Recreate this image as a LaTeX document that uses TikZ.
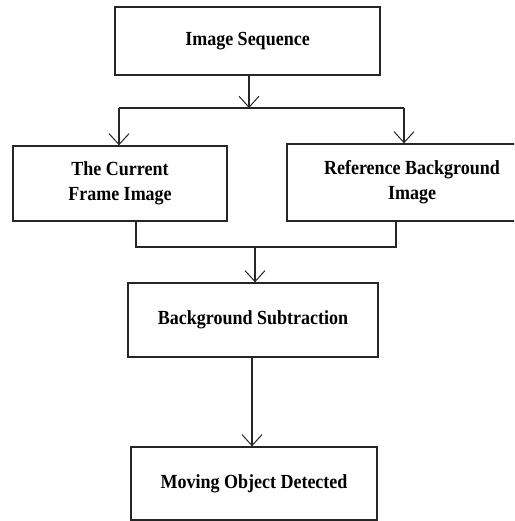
\documentclass[tikz,border=0pt]{standalone}
\usepackage{fontspec}
\setmainfont{Liberation Serif}[FakeStretch=0.9]
\usetikzlibrary{arrows.meta}
\begin{document}
\begin{tikzpicture}[x=1pt,y=-1pt,
  box/.style={draw=black!85, line width=1.3pt, rectangle, inner sep=0pt, align=center,
    font=\fontsize{20}{25}\selectfont\bfseries},
  conn/.style={line width=1.1pt, draw=black!85},
  arr/.style={conn, -{Straight Barb[length=11pt,width=20pt,line width=1pt]}}]
\useasboundingbox (0,0) rectangle (514,521);
\clip (0,0) rectangle (514,521);
\node[box, minimum width=265pt, minimum height=68pt] (seq) at (247.5,41) {Image Sequence};
\node[box, minimum width=214pt, minimum height=75pt] (cur) at (120,183.5) {The Current\\Frame Image};
\node[box, minimum width=250pt, minimum height=77pt] (ref) at (412,182.5) {Reference Background\\Image};
\node[box, minimum width=250pt, minimum height=74pt] (sub) at (253,320) {Background Subtraction};
\node[box, minimum width=246pt, minimum height=73pt] (mov) at (254,483.5) {Moving Object Detected};
\coordinate (j) at (249,108);
\coordinate (jl) at (119,108);
\coordinate (jr) at (404,108);
\coordinate (kl) at (136,247);
\coordinate (kr) at (396,247);
\coordinate (k) at (255,247);
\coordinate (m) at (252,0);
\draw[arr] (seq.south -| j) -- (j);
\draw[conn] (jl) -- (jr);
\draw[arr] (jl) -- (jl |- cur.north);
\draw[arr] (jr) -- (jr |- ref.north);
\draw[conn] (cur.south -| kl) -- (kl) -- (kr) -- (ref.south -| kr);
\draw[arr] (k) -- (k |- sub.north);
\draw[arr] (sub.south -| m) -- (mov.north -| m);
\end{tikzpicture}
\end{document}
